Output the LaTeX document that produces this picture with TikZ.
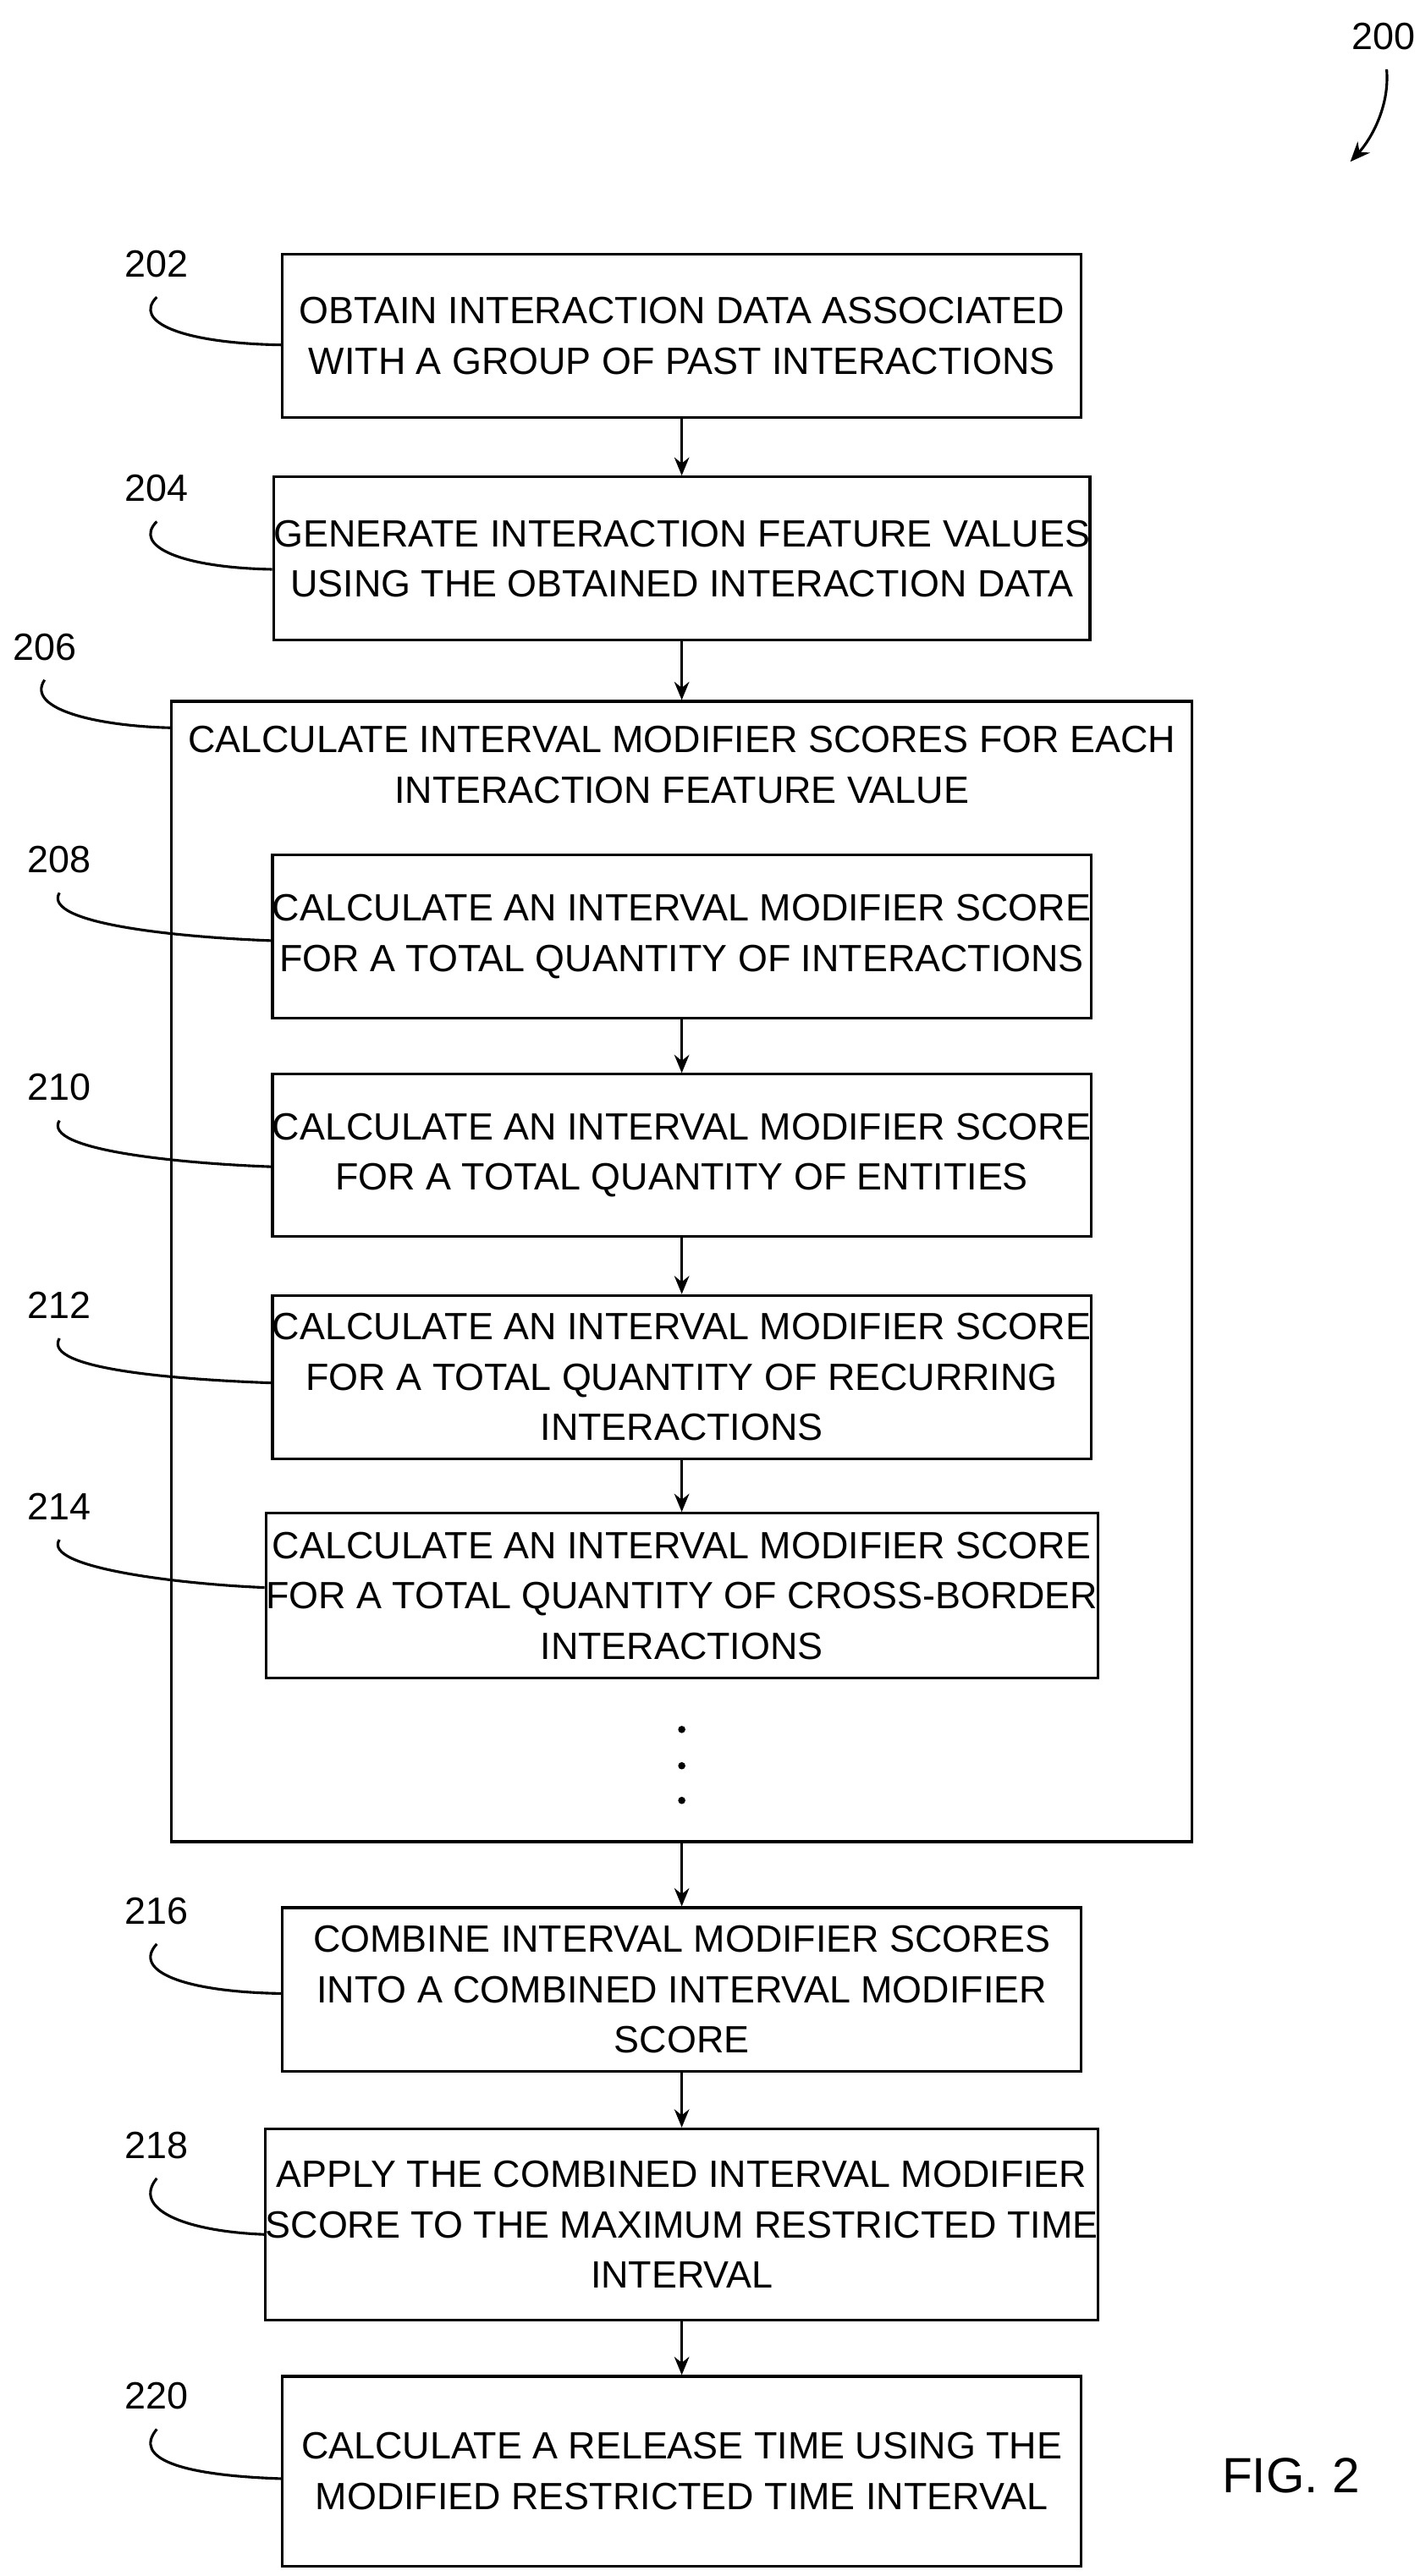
\documentclass[tikz,border=0pt]{standalone}
\usepackage{fontspec}
\setmainfont{Liberation Sans}
\usetikzlibrary{arrows.meta}
\begin{document}
\begin{tikzpicture}[x=1pt,y=-1pt,
  box/.style={draw,line width=1.6pt,minimum width=484pt,align=center,font=\fontsize{23}{30.5}\selectfont,inner sep=0pt},
  lab/.style={font=\fontsize{23}{28}\selectfont,anchor=center},
  arr/.style={line width=1.6pt,-{Stealth[length=11pt,width=9pt]}},
  lead/.style={line width=1.6pt}]
\useasboundingbox (0,0) rectangle (860,1561);
\node[box,minimum height=99pt] (b202) at (413,203.5) {OBTAIN INTERACTION DATA ASSOCIATED\\WITH A GROUP OF PAST INTERACTIONS};
\node[box,minimum height=99pt] (b204) at (413,338.5) {GENERATE INTERACTION FEATURE VALUES\\USING THE OBTAINED INTERACTION DATA};
\node[draw,line width=1.6pt,minimum width=618pt,minimum height=691pt,inner sep=0pt] (b206) at (413,770.5) {};
\node[lab,align=center,font=\fontsize{23}{30.5}\selectfont] (t206) at (413,463.5) {CALCULATE INTERVAL MODIFIER SCORES FOR EACH\\INTERACTION FEATURE VALUE};
\node[box,minimum height=99pt] (b208) at (413,567.5) {CALCULATE AN INTERVAL MODIFIER SCORE\\FOR A TOTAL QUANTITY OF INTERACTIONS};
\node[box,minimum height=98pt] (b210) at (413,700) {CALCULATE AN INTERVAL MODIFIER SCORE\\FOR A TOTAL QUANTITY OF ENTITIES};
\node[box,minimum height=99pt] (b212) at (413,834.5) {CALCULATE AN INTERVAL MODIFIER SCORE\\FOR A TOTAL QUANTITY OF RECURRING\\INTERACTIONS};
\node[box,minimum height=100pt] (b214) at (413,967) {CALCULATE AN INTERVAL MODIFIER SCORE\\FOR A TOTAL QUANTITY OF CROSS-BORDER\\INTERACTIONS};
\foreach \y in {1048,1070,1091}{\fill (413,\y) circle (2.2pt);}
\node[box,minimum height=99pt] (b216) at (413,1205.5) {COMBINE INTERVAL MODIFIER SCORES\\INTO A COMBINED INTERVAL MODIFIER\\SCORE};
\node[box,minimum height=116pt] (b218) at (413,1348) {APPLY THE COMBINED INTERVAL MODIFIER\\SCORE TO THE MAXIMUM RESTRICTED TIME\\INTERVAL};
\node[box,minimum height=115pt] (b220) at (413,1497.5) {CALCULATE A RELEASE TIME USING THE\\MODIFIED RESTRICTED TIME INTERVAL};
\draw[arr] (b202) -- (b204);
\draw[arr] (b204) -- (b206.north);
\draw[arr] (b208) -- (b210);
\draw[arr] (b210) -- (b212);
\draw[arr] (b212) -- (b214);
\draw[arr] (b206.south) -- (b216);
\draw[arr] (b216) -- (b218);
\draw[arr] (b218) -- (b220);
% labels
\node[lab] (l202) at (95,160) {202};
\node[lab] (l204) at (95,296) {204};
\node[lab] (l206) at (27,392) {206};
\node[lab] (l208) at (36,521) {208};
\node[lab] (l210) at (36,659) {210};
\node[lab] (l212) at (36,791) {212};
\node[lab] (l214) at (36,913) {214};
\node[lab] (l216) at (95,1158) {216};
\node[lab] (l218) at (95,1300) {218};
\node[lab] (l220) at (95,1452) {220};
\draw[lead] (95,180) .. controls (80,195) and (110,208) .. (b202.west |- 0,209);
\draw[lead] (95,316) .. controls (80,331) and (110,344) .. (b204.west |- 0,345);
\draw[lead] (27,412) .. controls (15,430) and (60,440) .. (b206.west |- 0,441);
\draw[lead] (36,541) .. controls (25,560) and (110,568) .. (b208.west |- 0,570);
\draw[lead] (36,679) .. controls (25,697) and (110,705) .. (b210.west |- 0,707);
\draw[lead] (36,811) .. controls (25,830) and (110,836) .. (b212.west |- 0,838);
\draw[lead] (36,933) .. controls (25,950) and (110,960) .. (b214.west |- 0,962);
\draw[lead] (95,1178) .. controls (80,1194) and (110,1207) .. (b216.west |- 0,1208);
\draw[lead] (95,1320) .. controls (80,1338) and (110,1352) .. (b218.west |- 0,1354);
\draw[lead] (95,1472) .. controls (80,1490) and (110,1500) .. (b220.west |- 0,1502);
\node[lab,font=\fontsize{30}{36}\selectfont] (fig) at (782,1500) {FIG. 2};
\node[lab] (l200) at (838,22) {200};
\coordinate (a200) at (818,98);
\draw[line width=1.6pt,-{Stealth[length=12pt,width=10pt]}] (840,42) .. controls (842,65) and (830,85) .. (a200);
\end{tikzpicture}
\end{document}
